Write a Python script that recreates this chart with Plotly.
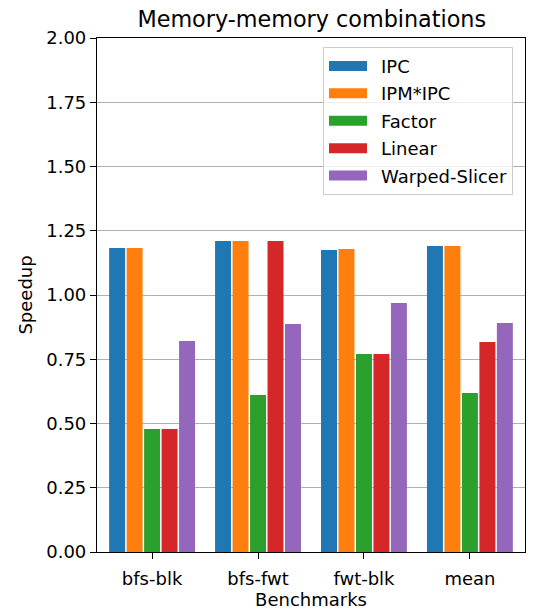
import plotly.graph_objects as go

categories = ["bfs-blk", "bfs-fwt", "fwt-blk", "mean"]
series_names = ["IPC", "IPM*IPC", "Factor", "Linear", "Warped-Slicer"]
ipc = [1.183, 1.210, 1.175, 1.191]
ipm_ipc = [1.183, 1.210, 1.179, 1.191]
factor = [0.479, 0.611, 0.770, 0.619]
linear = [0.479, 1.210, 0.770, 0.817]
warped = [0.821, 0.887, 0.969, 0.891]
colors = ["#1f77b4", "#ff7f0e", "#2ca02c", "#d62728", "#9467bd"]
y_ticks = [0.0, 0.25, 0.5, 0.75, 1.0, 1.25, 1.5, 1.75, 2.0]

FONT = "DejaVu Sans"
FS = 18
fig = go.Figure()
for i, (name, vals) in enumerate(zip(series_names, [ipc, ipm_ipc, factor, linear, warped])):
    fig.add_trace(go.Bar(x=categories, y=vals, name=name, marker_color=colors[i],
                         marker_line_width=0, legendgroup=name, showlegend=False))
# legend entries with wide rectangular swatches (matplotlib-like)
for i, name in enumerate(series_names):
    fig.add_trace(go.Scatter(x=[None], y=[None], mode="lines", name="\u2002" + name,
                             line=dict(color=colors[i], width=14), legendgroup=name,
                             hoverinfo="skip"))

fig.update_layout(
    width=537, height=612,
    margin=dict(l=97, r=12, t=38, b=60),
    plot_bgcolor="white", paper_bgcolor="white",
    font=dict(family=FONT, size=FS, color="black"),
    barmode="group", bargap=0.175, bargroupgap=0.086,
    title=dict(text="Memory-memory combinations", x=0.5806, xanchor="center",
               y=0.968, yanchor="middle", font=dict(size=22.3, family=FONT, color="black")),
    legend=dict(x=0.972, y=0.983, xanchor="right", yanchor="top",
                bgcolor="rgba(255,255,255,0.8)", bordercolor="#cccccc", borderwidth=1,
                font=dict(size=FS, family=FONT), tracegroupgap=1, itemwidth=38),
    showlegend=True,
)
fig.update_xaxes(range=[-0.52, 3.52], showline=True, linecolor="black", linewidth=1.2,
                 mirror=True, ticks="outside", ticklen=6, tickwidth=1.2, tickcolor="black",
                 ticklabelstandoff=4, automargin=False,
                 showgrid=False, title=dict(text="Benchmarks", standoff=4,
                                            font=dict(size=FS, family=FONT)))
fig.update_yaxes(range=[0, 2.0], tickvals=y_ticks, tickformat=".2f", showline=True,
                 linecolor="black", linewidth=1.2, mirror=True, ticks="outside", ticklen=6,
                 tickwidth=1.2, tickcolor="black", showgrid=True, gridcolor="#b0b0b0",
                 gridwidth=1.2, zeroline=False, automargin=False,
                 title=dict(text="Speedup", standoff=8, font=dict(size=FS, family=FONT)))

fig.write_html("out.html", config={"displayModeBar": False},
               post_script="document.body.style.margin='0';")
